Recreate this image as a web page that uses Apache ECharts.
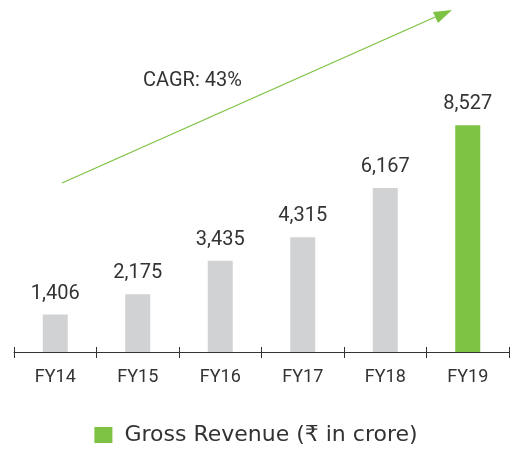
<!DOCTYPE html>
<html>
<head>
<meta charset="utf-8">
<script src="https://cdn.jsdelivr.net/npm/echarts@6/dist/echarts.min.js"></script>
<style>
  html, body { margin: 0; padding: 0; background: #fff; }
  #chart { width: 512px; height: 450px; }
</style>
</head>
<body>
<div id="chart"></div>
<script>
  // data
  var categories = ['FY14', 'FY15', 'FY16', 'FY17', 'FY18', 'FY19'];
  var revenue = [1406, 2175, 3435, 4315, 6167, 8527];
  var seriesName = 'Gross Revenue (₹ in crore)';
  var cagrText = 'CAGR: 43%';

  var grey = '#d1d2d4';
  var green = '#7dc242';
  var font = 'Roboto, "DejaVu Sans", sans-serif';

  var chart = echarts.init(document.getElementById('chart'));

  var option = {
    animation: false,
    grid: { left: 14, right: 3, top: 33, bottom: 98 },
    legend: {
      bottom: -1,
      left: 'center',
      itemWidth: 18,
      itemHeight: 16,
      icon: 'rect',
      textStyle: { fontSize: 22, color: '#333', fontFamily: '"DejaVu Sans", sans-serif', padding: [0, 0, 0, 7] },
      data: [{ name: seriesName, itemStyle: { color: green } }]
    },
    xAxis: [{
      type: 'category',
      data: categories,
      axisLine: { lineStyle: { color: '#333', width: 1 } },
      axisTick: { show: true, length: 6, lineStyle: { color: '#333' } },
      axisLabel: { fontSize: 18, color: '#333', margin: 16, fontFamily: font }
    }, {
      // upper half of the ticks that cross the axis
      type: 'category',
      data: categories,
      position: 'bottom',
      axisLine: { show: false },
      axisTick: { show: true, inside: true, length: 5, lineStyle: { color: '#333' } },
      axisLabel: { show: false }
    }],
    yAxis: {
      type: 'value',
      min: 0,
      max: 12000,
      show: false,
      splitLine: { show: false }
    },
    series: [{
      name: seriesName,
      type: 'bar',
      barWidth: 25,
      data: revenue.map(function (v, i) {
        return { value: v, itemStyle: { color: i === revenue.length - 1 ? green : grey } };
      }),
      itemStyle: { color: green },
      label: {
        show: true,
        position: 'top',
        distance: 11,
        fontSize: 20,
        color: '#333',
        fontFamily: font,
        formatter: function (p) { return p.value.toLocaleString('en-US'); }
      }
    }],
    graphic: [
      // CAGR arrow annotation
      {
        type: 'line',
        shape: { x1: 62, y1: 183, x2: 442, y2: 14 },
        style: { stroke: green, lineWidth: 1.3 }
      },
      {
        type: 'polygon',
        shape: { points: [[452, 10], [433, 12], [438, 23]] },
        style: { fill: green }
      },
      {
        type: 'text',
        left: 143,
        top: 71,
        style: { text: cagrText, fontSize: 20, fill: '#333', fontFamily: font }
      }
    ]
  };

  chart.setOption(option);
</script>
</body>
</html>
